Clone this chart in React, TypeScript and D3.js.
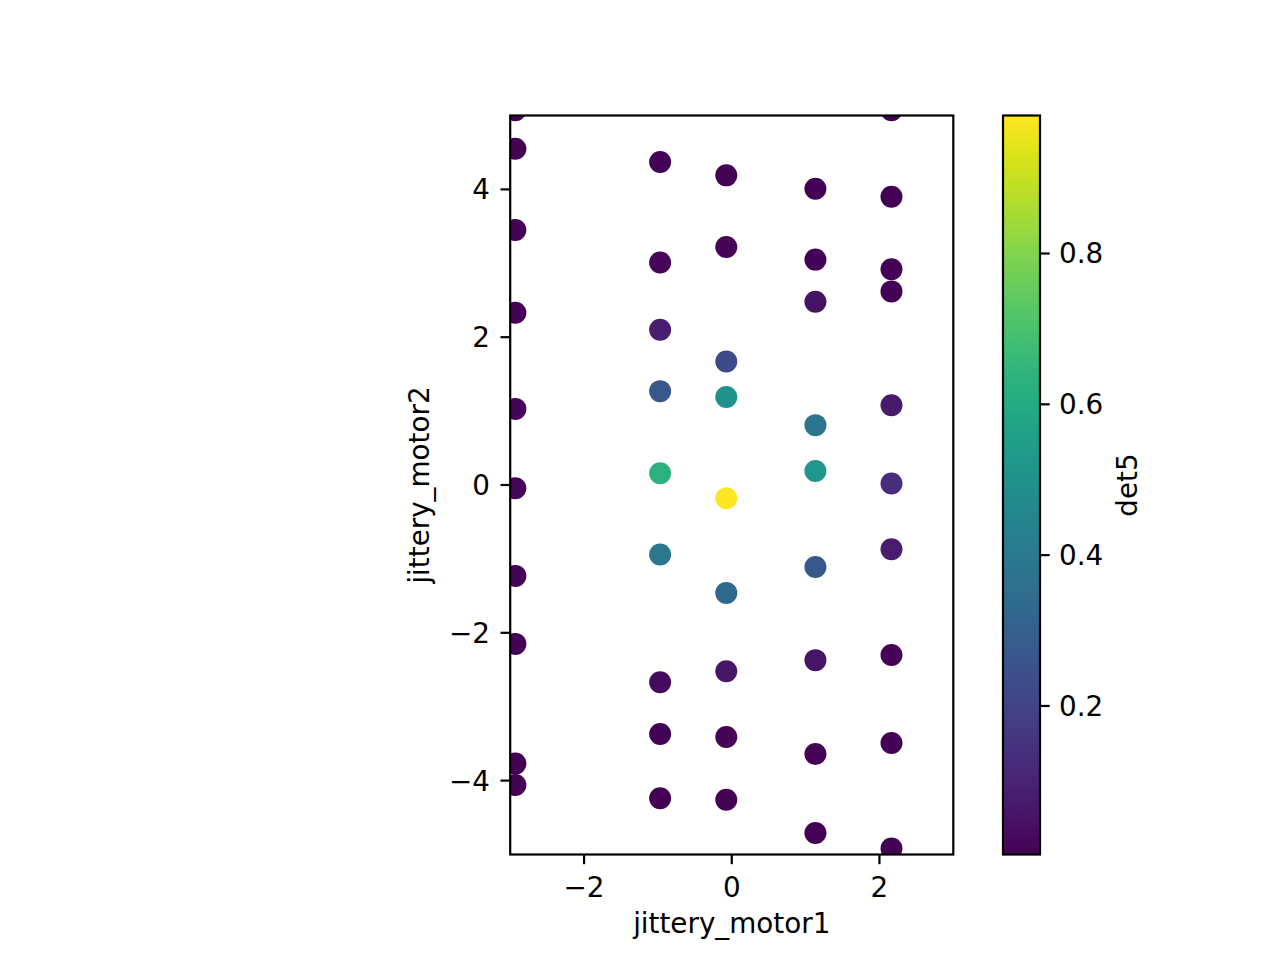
import * as d3 from "d3";

// scan positions (one entry per point) and detector reading
const motor1 = [
  -2.93, -2.93, -2.93, -2.93, -2.93, -2.93, -2.93, -2.93, -2.93, -2.93,
  -0.97, -0.97, -0.97, -0.97, -0.97, -0.97, -0.97, -0.97, -0.97,
  -0.074, -0.074, -0.074, -0.074, -0.074, -0.074, -0.074, -0.074, -0.074,
  1.133, 1.133, 1.133, 1.133, 1.133, 1.133, 1.133, 1.133, 1.133,
  2.163, 2.163, 2.163, 2.163, 2.163, 2.163, 2.163, 2.163, 2.163, 2.163,
];
const motor2 = [
  5.07, 4.55, 3.45, 2.33, 1.03, -0.045, -1.23, -2.15, -3.77, -4.06,
  4.37, 3.01, 2.1, 1.27, 0.16, -0.94, -2.67, -3.37, -4.24,
  4.19, 3.22, 1.67, 1.19, -0.18, -1.46, -2.52, -3.41, -4.26,
  4.01, 3.05, 2.48, 0.81, 0.19, -1.11, -2.37, -3.64, -4.71,
  5.07, 3.9, 2.92, 2.62, 1.08, 0.02, -0.87, -2.3, -3.49, -4.92,
];
const det5 = [
  0.003, 0.005, 0.008, 0.01, 0.012, 0.015, 0.012, 0.01, 0.005, 0.004,
  0.01, 0.015, 0.085, 0.27, 0.63, 0.39, 0.03, 0.01, 0.005,
  0.008, 0.012, 0.22, 0.5, 0.983, 0.335, 0.06, 0.012, 0.005,
  0.008, 0.01, 0.05, 0.385, 0.52, 0.27, 0.055, 0.012, 0.005,
  0.005, 0.006, 0.01, 0.01, 0.07, 0.13, 0.08, 0.012, 0.008, 0.004,
];

const xTicks = [-2, 0, 2];
const yTicks = [-4, -2, 0, 2, 4];
const cbarTicks = [0.2, 0.4, 0.6, 0.8];

const W = 1280;
const H = 960;
const FONT = "DejaVu Sans, sans-serif";
const FS = 27.8;
const LW = 2.2;
const TICK = 9.7;

const fmt = (v: number, digits = 0) =>
  (v < 0 ? "\u2212" : "") + Math.abs(v).toFixed(digits);

export default function App() {
  const x = d3.scaleLinear().domain([-3, 3]).range([510.2, 953.3]);
  const y = d3.scaleLinear().domain([-5, 5]).range([854.5, 115.5]);

  const vmin = d3.min(det5) ?? 0;
  const vmax = d3.max(det5) ?? 1;
  const color = d3.scaleSequential(d3.interpolateViridis).domain([vmin, vmax]);

  const cb = { x0: 1003, x1: 1040, y0: 115.5, y1: 854.5 };
  const cy = d3.scaleLinear().domain([vmin, vmax]).range([cb.y1, cb.y0]);
  const stops = d3.range(0, 1.0001, 0.02);

  const [x0, x1] = x.range();
  const [y1, y0] = y.range();

  return (
    <svg
      width={W}
      height={H}
      style={{ position: "absolute", left: 0, top: 0, background: "white" }}
      fontFamily={FONT}
      fontSize={FS}
    >
      <defs>
        <clipPath id="plot-clip">
          <rect x={x0} y={y0} width={x1 - x0} height={y1 - y0} />
        </clipPath>
        <linearGradient id="viridis" x1="0" y1="1" x2="0" y2="0">
          {stops.map((t) => (
            <stop key={t} offset={t} stopColor={d3.interpolateViridis(t)} />
          ))}
        </linearGradient>
      </defs>

      {/* scatter */}
      <g clipPath="url(#plot-clip)">
        {det5.map((v, i) => (
          <circle
            key={i}
            cx={x(motor1[i])}
            cy={y(motor2[i])}
            r={11}
            fill={color(v)}
          />
        ))}
      </g>

      {/* spines */}
      <rect
        x={x0}
        y={y0}
        width={x1 - x0}
        height={y1 - y0}
        fill="none"
        stroke="black"
        strokeWidth={LW}
      />

      {/* x axis */}
      {xTicks.map((t) => (
        <g key={t}>
          <line x1={x(t)} x2={x(t)} y1={y1} y2={y1 + TICK} stroke="black" strokeWidth={LW} />
          <text x={x(t)} y={897} textAnchor="middle">
            {fmt(t)}
          </text>
        </g>
      ))}
      <text x={(x0 + x1) / 2} y={933} textAnchor="middle">
        jittery_motor1
      </text>

      {/* y axis */}
      {yTicks.map((t) => (
        <g key={t}>
          <line x1={x0 - TICK} x2={x0} y1={y(t)} y2={y(t)} stroke="black" strokeWidth={LW} />
          <text x={490} y={y(t) + 10} textAnchor="end">
            {fmt(t)}
          </text>
        </g>
      ))}
      <text
        transform={`translate(429,${(y0 + y1) / 2}) rotate(-90)`}
        textAnchor="middle"
      >
        jittery_motor2
      </text>

      {/* colorbar */}
      <rect
        x={cb.x0}
        y={cb.y0}
        width={cb.x1 - cb.x0}
        height={cb.y1 - cb.y0}
        fill="url(#viridis)"
        stroke="black"
        strokeWidth={LW}
      />
      {cbarTicks.map((t) => (
        <g key={t}>
          <line x1={cb.x1} x2={cb.x1 + TICK} y1={cy(t)} y2={cy(t)} stroke="black" strokeWidth={LW} />
          <text x={1059} y={cy(t) + 10}>
            {fmt(t, 1)}
          </text>
        </g>
      ))}
      <text
        transform={`translate(1137,${(cb.y0 + cb.y1) / 2}) rotate(-90)`}
        textAnchor="middle"
      >
        det5
      </text>
    </svg>
  );
}
